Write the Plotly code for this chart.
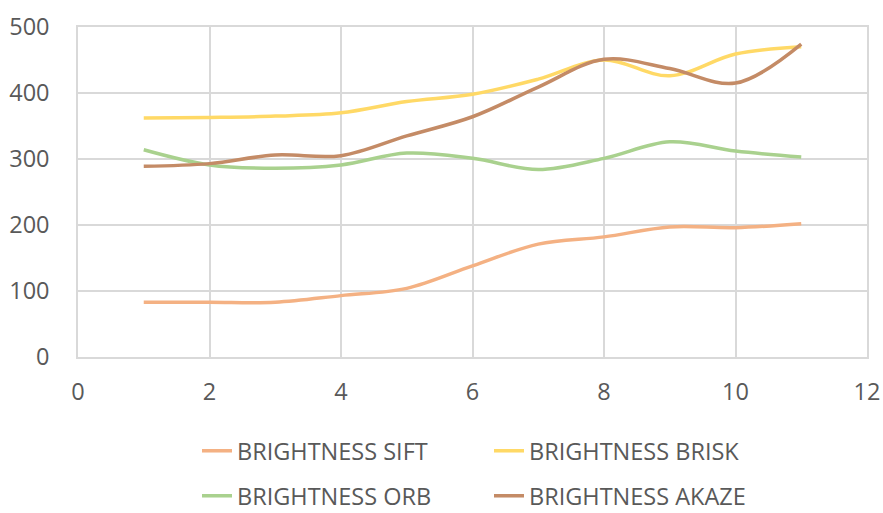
import plotly.graph_objects as go

# Feature-detector keypoint counts under brightness changes, levels 1..11
levels = [1, 2, 3, 4, 5, 6, 7, 8, 9, 10, 11]
sift = [83, 83, 83, 93, 104, 138, 171, 182, 197, 196, 202]
brisk = [362, 363, 365, 370, 387, 398, 421, 450, 426, 459, 470]
orb = [314, 291, 286, 291, 309, 301, 284, 301, 326, 312, 303]
akaze = [289, 293, 306, 305, 335, 364, 409, 451, 437, 415, 474]

series = [
    ("BRIGHTNESS SIFT", sift, "#F4B183", "legend"),
    ("BRIGHTNESS BRISK", brisk, "#FFD966", "legend"),
    ("BRIGHTNESS ORB", orb, "#A9D18E", "legend2"),
    ("BRIGHTNESS AKAZE", akaze, "#C48B66", "legend2"),
]

W, H = 883, 513
FONT = "Open Sans"
TXT = "#595959"
GRID = "#D9D9D9"

fig = go.Figure()
for name, vals, color, leg in series:
    fig.add_trace(go.Scatter(
        x=levels, y=vals, name=name, mode="lines",
        line=dict(color=color, width=3.5, shape="spline", smoothing=1.0),
        legend=leg,
    ))

legend_common = dict(
    orientation="h",
    xref="container", yref="container",
    xanchor="left", yanchor="middle",
    entrywidth=247, entrywidthmode="pixels",
    font=dict(family=FONT, size=23.5, color=TXT),
    bgcolor="rgba(0,0,0,0)",
)

fig.update_layout(
    width=W, height=H,
    margin=dict(l=78, r=16, t=27, b=156, autoexpand=False),
    paper_bgcolor="white", plot_bgcolor="white",
    font=dict(family=FONT, size=23.5, color=TXT),
    legend=dict(x=197 / W, y=1 - 451 / H, **legend_common),
    legend2=dict(x=197 / W, y=1 - 496 / H, **legend_common),
)

fig.update_xaxes(
    range=[0, 12], dtick=2, tick0=0, automargin=False,
    showgrid=True, gridcolor=GRID, gridwidth=1.5,
    showline=True, linecolor=GRID, linewidth=1.5, mirror=True,
    zeroline=False, ticks="", ticklabelstandoff=13,
    tickfont=dict(family=FONT, size=23.5, color=TXT),
)
fig.update_yaxes(
    range=[0, 500], dtick=100, tick0=0, automargin=False,
    showgrid=True, gridcolor=GRID, gridwidth=1.5,
    showline=True, linecolor=GRID, linewidth=1.5, mirror=True,
    zeroline=False, ticks="", ticklabelstandoff=22,
    tickfont=dict(family=FONT, size=23.5, color=TXT),
)

fig.write_html("out.html")
